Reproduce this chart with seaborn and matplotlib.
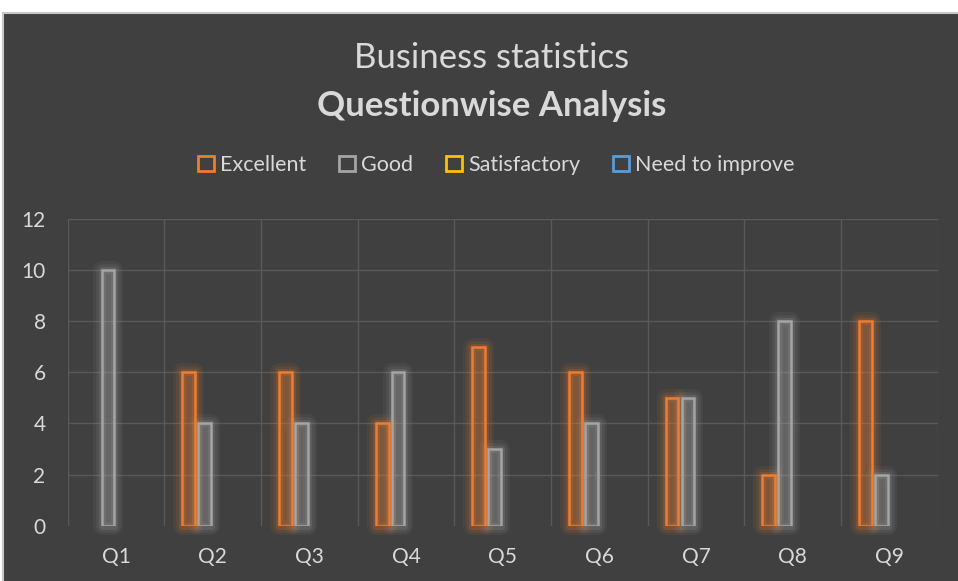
import seaborn as sns
import matplotlib.pyplot as plt
import numpy as np
import pandas as pd
from matplotlib.patches import Patch, Rectangle

# data
questions = ['Q1', 'Q2', 'Q3', 'Q4', 'Q5', 'Q6', 'Q7', 'Q8', 'Q9']
excellent = [0, 6, 6, 4, 7, 6, 5, 2, 8]
good = [10, 4, 4, 6, 3, 4, 5, 8, 2]
satisfactory = [0, 0, 0, 0, 0, 0, 0, 0, 0]
need_to_improve = [0, 0, 0, 0, 0, 0, 0, 0, 0]

series_names = ['Excellent', 'Good', 'Satisfactory', 'Need to improve']
series_colors = ['#ED7D31', '#A5A5A5', '#FFC000', '#5B9BD5']

df = pd.concat([
    pd.DataFrame({'question': questions, 'rating': name, 'count': vals})
    for name, vals in zip(series_names, [excellent, good, satisfactory, need_to_improve])
], ignore_index=True)

sns.set_style('dark')
plt.rcParams['font.family'] = ['Lato', 'DejaVu Sans']

bg = '#404040'
txt = '#D9D9D9'
grid_c = '#595959'

fig = plt.figure(figsize=(9.58, 5.81), dpi=100, facecolor='white')
fig.patches.append(Rectangle((0.003, -0.02), 1.0, 0.9976, transform=fig.transFigure,
                             facecolor=bg, edgecolor='#C8C8C8', linewidth=1.5, zorder=-5))

ax = fig.add_axes([0.0707, 0.0952, 0.9081, 0.5278])
ax.set_facecolor('none')

sns.barplot(data=df, x='question', y='count', hue='rating', hue_order=series_names,
            palette=dict(zip(series_names, series_colors)), width=0.66, gap=0.2,
            saturation=1, errorbar=None, legend=False, ax=ax)

for cont, col in zip(ax.containers, series_colors):
    for bar in cont:
        if bar.get_height() == 0:
            bar.set_visible(False)
            continue
        bar.set_facecolor((*plt.matplotlib.colors.to_rgb(col), 0.25))
        bar.set_edgecolor(col)
        bar.set_linewidth(1.8)
        bar.set_zorder(3)
        # soft glow around the bar
        for lw, a in [(13, 0.07), (9, 0.11), (5, 0.17)]:
            ax.add_patch(Rectangle(bar.get_xy(), bar.get_width(), bar.get_height(),
                                   fill=False, edgecolor=col, linewidth=lw, alpha=a,
                                   zorder=2, clip_on=False, joinstyle='round'))

ax.set_ylim(0, 12)
ax.set_xlim(-0.5, 8.5)
ax.set_yticks(range(0, 13, 2))
ax.set_xticks(np.arange(-0.5, 9, 1), minor=True)
ax.yaxis.grid(True, color=grid_c, linewidth=1)
ax.xaxis.grid(True, which='minor', color=grid_c, linewidth=1)
ax.xaxis.grid(False, which='major')
ax.yaxis.get_gridlines()[0].set_visible(False)
ax.set_axisbelow(True)
ax.tick_params(which='both', length=0, colors=txt, labelsize=15)
ax.tick_params(axis='y', pad=16)
ax.tick_params(axis='x', pad=15)
ax.set_xlabel('')
ax.set_ylabel('')
for s in ax.spines.values():
    s.set_visible(False)

fig.text(0.5136, 0.900, 'Business statistics', ha='center', va='center',
         fontsize=25, color=txt)
fig.text(0.5136, 0.817, 'Questionwise Analysis', ha='center', va='center',
         fontsize=25, fontweight='bold', color=txt)

handles = [Patch(facecolor='none', edgecolor=c, linewidth=2) for c in series_colors]
fig.legend(handles, series_names, loc='center', bbox_to_anchor=(0.518, 0.716), ncol=4,
           frameon=False, fontsize=15.5, labelcolor=txt, handlelength=0.75,
           handleheight=0.75, handletextpad=0.3, columnspacing=1.5)

fig.savefig('out.png', dpi=100, facecolor='white')
